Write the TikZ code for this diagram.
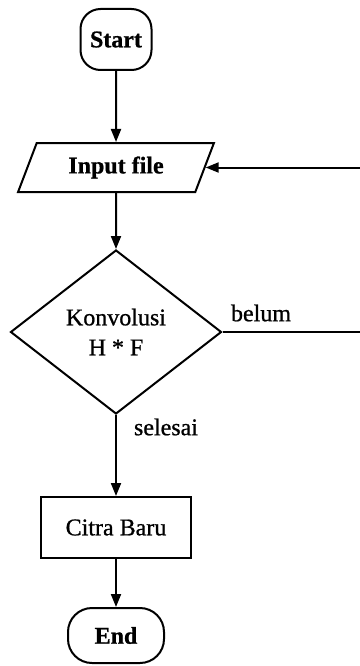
\documentclass[tikz,border=0pt]{standalone}
\usepackage{fontspec}
\setmainfont{Liberation Serif}
\newfontfamily\inkfont[FakeBold=0.8]{Liberation Serif}
\usetikzlibrary{shapes.geometric,arrows.meta,calc}
\begin{document}
\begin{tikzpicture}[x=1pt,y=-1pt,
  every node/.style={font=\fontsize{24}{30}\selectfont\inkfont},
  line/.style={line width=2pt},
  arr/.style={line, -{Triangle[length=13pt,width=10pt]}},
  terminal/.style={draw,line width=2pt,rectangle,rounded corners=20pt,inner sep=0pt},
  io/.style={draw,line width=2pt,trapezium,trapezium left angle=63,
    trapezium right angle=117,trapezium stretches=true,inner sep=0pt},
  process/.style={draw,line width=2pt,rectangle,inner sep=0pt},
  decision/.style={draw,line width=2pt,diamond,inner sep=0pt,align=center},
  lbl/.style={inner sep=0pt}]
\useasboundingbox (0,0) rectangle (359,666);

% flowchart blocks
\node[terminal, minimum width=71pt, minimum height=61pt] (start) at (116,39.5) {\bfseries Start};
\node[io, minimum width=196pt, minimum height=49pt] (in) at (116,167.5) {\bfseries Input file};
\node[decision, minimum width=211pt, minimum height=164pt] (dec) at (116,332) {Konvolusi\\H * F};
\node[process, minimum width=150pt, minimum height=61pt] (citra) at (116,527.5) {Citra Baru};
\node[terminal, rounded corners=24pt, minimum width=96pt, minimum height=55pt] (end) at (116,635.5) {\bfseries End};

% branch labels
\node[lbl] (belum) at (261,313) {belum};
\node[lbl] (selesai) at (166,427) {selesai};

% main flow
\draw[arr] (start.south) -- (in.north);
\draw[arr] (in.south) -- (dec.north);
\draw[arr] (dec.south) -- (citra.north);
\draw[arr] (citra.south) -- (end.north);

% loop back to the input
\coordinate (inR) at ($(in.top right corner)!0.5!(in.bottom right corner)$);
\coordinate (r1) at (362,332);
\coordinate (r2) at (362,167.5);
\draw[arr] (dec.east) -- (r1) -- (r2) -- (inR);
\end{tikzpicture}
\end{document}
